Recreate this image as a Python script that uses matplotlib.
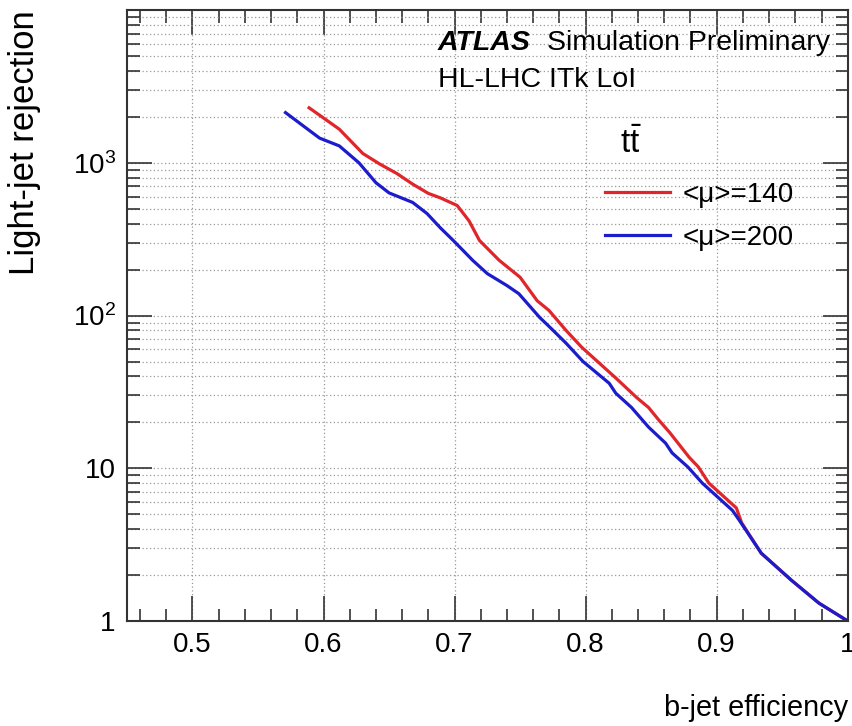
import matplotlib
matplotlib.use("Agg")
import matplotlib.pyplot as plt
import matplotlib.ticker as ticker
import numpy as np

plt.rcParams['font.family'] = ['Liberation Sans', 'DejaVu Sans']
plt.rcParams['mathtext.fontset'] = 'custom'
plt.rcParams['mathtext.rm'] = 'Liberation Sans'
plt.rcParams['mathtext.it'] = 'Liberation Sans:italic'

# b-jet efficiency vs light-jet rejection
eff_140 = [0.589, 0.612, 0.630, 0.643, 0.656, 0.668, 0.680, 0.689, 0.702, 0.711,
           0.719, 0.734, 0.750, 0.763, 0.772, 0.785, 0.797, 0.823, 0.839, 0.848,
           0.856, 0.864, 0.879, 0.886, 0.894, 0.915, 0.919, 0.934, 0.957, 0.978,
           1.000]
rej_140 = [2290, 1660, 1150, 980, 850, 725, 630, 590, 525, 417,
           310, 230, 178, 125, 108, 80, 62, 39, 29, 25,
           20.6, 17.2, 11.8, 10.2, 8.0, 5.5, 4.4, 2.78, 1.85, 1.31,
           1.0]

eff_200 = [0.571, 0.597, 0.612, 0.627, 0.640, 0.650, 0.668, 0.679, 0.689, 0.699,
           0.714, 0.725, 0.740, 0.749, 0.765, 0.772, 0.785, 0.798, 0.818, 0.823,
           0.835, 0.848, 0.861, 0.866, 0.878, 0.889, 0.912, 0.917, 0.934, 0.957,
           0.978, 1.000]
rej_200 = [2130, 1450, 1290, 1000, 740, 635, 550, 465, 376, 310,
           229, 188, 157, 139, 97, 85, 66, 50, 36, 31,
           25, 18.6, 14.6, 12.6, 10.2, 8.0, 5.3, 4.6, 2.78, 1.85,
           1.31, 1.0]

labels = ['<\u03bc>=140', '<\u03bc>=200']
colors = ['#e0262b', '#1c1ccc']

fig = plt.figure(figsize=(8.52, 7.26), dpi=100)
ax = fig.add_axes([0.149, 0.1446, 0.846, 0.8416])

ax.plot(eff_140, rej_140, color=colors[0], lw=2.3, label=labels[0])
ax.plot(eff_200, rej_200, color=colors[1], lw=2.3, label=labels[1])

ax.set_yscale('log')
ax.set_xlim(0.45, 1.0)
ax.set_ylim(1, 1e4)

ax.xaxis.set_major_locator(ticker.MultipleLocator(0.1))
ax.xaxis.set_minor_locator(ticker.MultipleLocator(0.02))
ax.xaxis.set_major_formatter(ticker.FuncFormatter(lambda v, p: '1' if abs(v - 1) < 1e-6 else '%.1f' % v))
ax.yaxis.set_major_locator(ticker.FixedLocator([1, 10, 100, 1000]))
ax.yaxis.set_minor_locator(ticker.LogLocator(base=10, subs=np.arange(2, 10), numticks=20))
ax.yaxis.set_major_formatter(ticker.FixedFormatter(['1', '10', '$10^{2}$', '$10^{3}$']))
ax.yaxis.set_minor_formatter(ticker.NullFormatter())

ax.tick_params(which='both', direction='in', top=True, right=True, labelsize=20, width=1.2, color='#333333')
ax.tick_params(which='major', length=18, pad=8)
ax.tick_params(which='minor', length=9)
for s in ax.spines.values():
    s.set_linewidth(1.5)
    s.set_color('#333333')

ax.grid(True, axis='x', which='major', ls=(0, (1, 2)), color='#999999', lw=0.9)
ax.grid(True, axis='y', which='both', ls=(0, (1, 2)), color='#999999', lw=0.9)
ax.set_axisbelow(True)

fig.text(0.029, 0.986, 'Light-jet rejection', rotation=90, ha='center', va='top', fontsize=25)
fig.text(0.995, 0.0138, 'b-jet efficiency', ha='right', va='baseline', fontsize=20.8)

ax.text(0.431, 0.946, 'ATLAS', transform=ax.transAxes, fontsize=20.5, fontweight='bold', fontstyle='italic', va='center')
ax.text(0.5825, 0.946, 'Simulation Preliminary', transform=ax.transAxes, fontsize=20.5, va='center')
ax.text(0.431, 0.885, 'HL-LHC ITk LoI', transform=ax.transAxes, fontsize=20.5, va='center')
ax.text(0.684, 0.781, r't$\bar{\mathrm{t}}$', transform=ax.transAxes, fontsize=24, va='center')

leg = ax.legend(loc='upper left', bbox_to_anchor=(0.663, 0.719), frameon=False, fontsize=20,
                handlelength=2.34, handletextpad=0.47, labelspacing=0.61, borderaxespad=0,
                borderpad=0)

fig.savefig('out.png', dpi=100)
